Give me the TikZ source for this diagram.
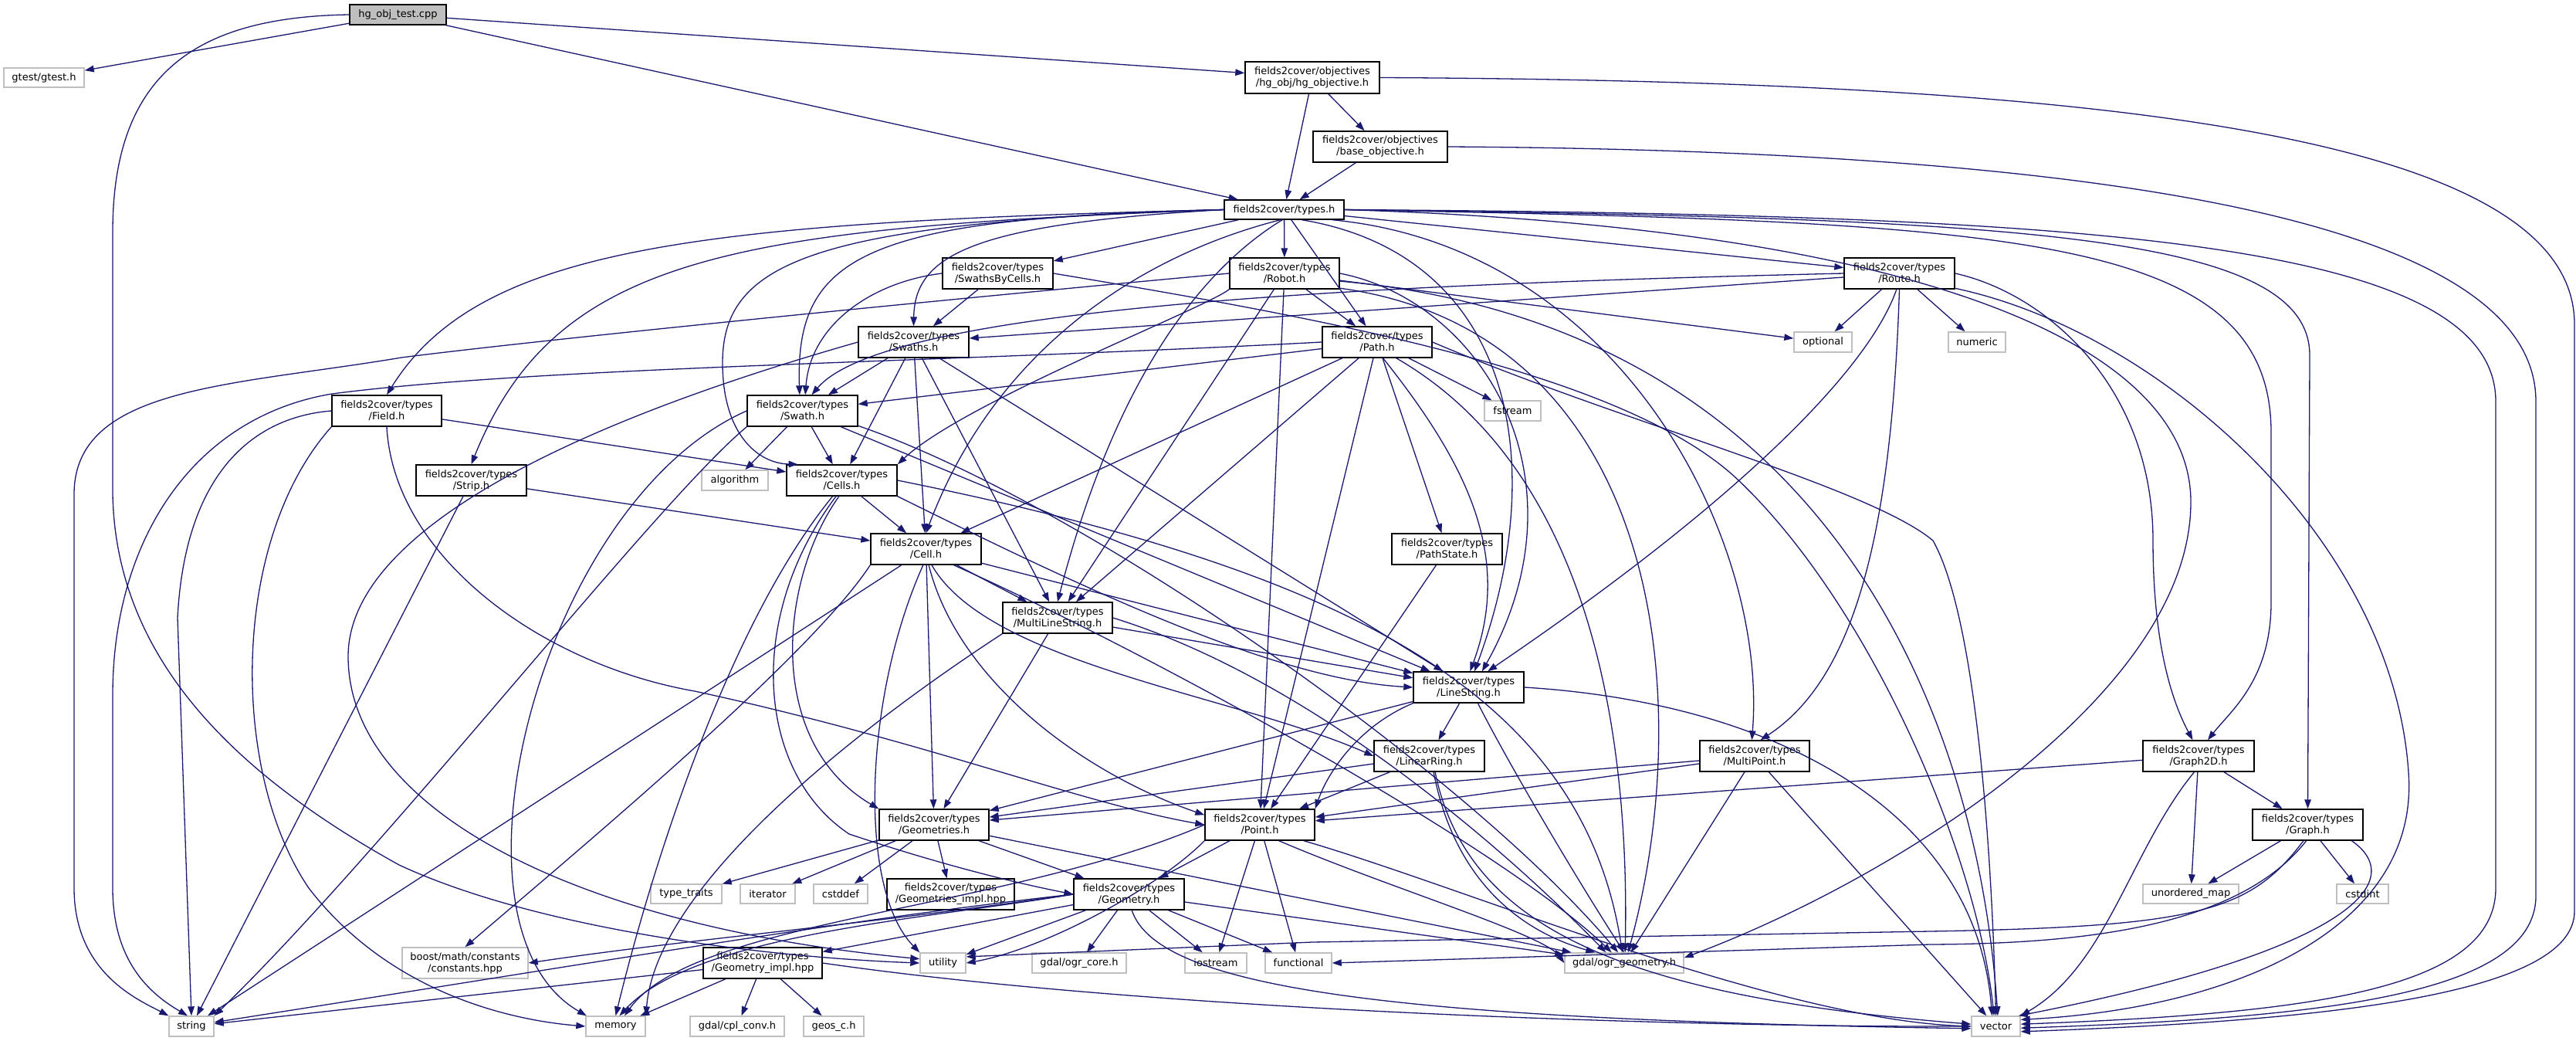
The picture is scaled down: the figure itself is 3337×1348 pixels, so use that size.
\documentclass[tikz,border=0pt]{standalone}
\usepackage{fontspec}
\setmainfont{DejaVu Sans}
\usetikzlibrary{arrows.meta}
\definecolor{edgec}{HTML}{191970}
\definecolor{grayb}{HTML}{BFBFBF}
\tikzset{
  fb/.style={draw=black, line width=1.4pt, fill=white, inner sep=0pt, align=center, font=\fontsize{13pt}{15pt}\selectfont},
  xb/.style={fb, draw=grayb},
  rb/.style={fb, fill=grayb},
  e/.style={draw=edgec, line width=1.3pt, -{Triangle[length=12pt,width=8.5pt]}},
}
\begin{document}
\begin{tikzpicture}[x=1pt,y=-1pt]
\fill[white] (0,0) rectangle (3337,1348);
\useasboundingbox (0,0) rectangle (3337,1348);
% ---------- nodes ----------
\node[rb, minimum width=125pt, minimum height=26pt] (hg) at (515.5,19) {hg\_obj\_test.cpp};
\node[xb, minimum width=104pt, minimum height=25pt] (gtest) at (57,100.5) {gtest/gtest.h};
\node[fb, minimum width=174pt, minimum height=41pt] (hgobj) at (1700,100.5) {fields2cover/objectives\\/hg\_obj/hg\_objective.h};
\node[fb, minimum width=174pt, minimum height=40pt] (baseobj) at (1788,190) {fields2cover/objectives\\/base\_objective.h};
\node[fb, minimum width=155pt, minimum height=25pt] (types) at (1663.5,271.5) {fields2cover/types.h};
\node[fb, minimum width=143pt, minimum height=40pt] (sbc) at (1292.5,354) {fields2cover/types\\/SwathsByCells.h};
\node[fb, minimum width=142pt, minimum height=40pt] (robot) at (1664,354) {fields2cover/types\\/Robot.h};
\node[fb, minimum width=143pt, minimum height=40pt] (route) at (2460.5,354) {fields2cover/types\\/Route.h};
\node[xb, minimum width=75pt, minimum height=26pt] (optional) at (2361.5,443) {optional};
\node[xb, minimum width=74pt, minimum height=26pt] (numeric) at (2561,443) {numeric};
\node[fb, minimum width=143pt, minimum height=40pt] (swaths) at (1183.5,443) {fields2cover/types\\/Swaths.h};
\node[fb, minimum width=142pt, minimum height=40pt] (path) at (1784,443) {fields2cover/types\\/Path.h};
\node[fb, minimum width=142pt, minimum height=40pt] (field) at (501,532) {fields2cover/types\\/Field.h};
\node[fb, minimum width=143pt, minimum height=40pt] (swath) at (1039.5,532) {fields2cover/types\\/Swath.h};
\node[xb, minimum width=73pt, minimum height=26pt] (fstream) at (1959.5,532) {fstream};
\node[fb, minimum width=143pt, minimum height=40pt] (strip) at (610.5,622) {fields2cover/types\\/Strip.h};
\node[xb, minimum width=86pt, minimum height=26pt] (algorithm) at (952,622) {algorithm};
\node[fb, minimum width=143pt, minimum height=40pt] (cells) at (1090.5,622) {fields2cover/types\\/Cells.h};
\node[fb, minimum width=143pt, minimum height=40pt] (cell) at (1199.5,711) {fields2cover/types\\/Cell.h};
\node[fb, minimum width=143pt, minimum height=40pt] (pathstate) at (1874.5,711) {fields2cover/types\\/PathState.h};
\node[fb, minimum width=142pt, minimum height=40pt] (mls) at (1370,800) {fields2cover/types\\/MultiLineString.h};
\node[fb, minimum width=143pt, minimum height=40pt] (linestring) at (1902.5,890) {fields2cover/types\\/LineString.h};
\node[fb, minimum width=143pt, minimum height=40pt] (linearring) at (1851.5,979) {fields2cover/types\\/LinearRing.h};
\node[fb, minimum width=142pt, minimum height=40pt] (multipoint) at (2273,979) {fields2cover/types\\/MultiPoint.h};
\node[fb, minimum width=144pt, minimum height=40pt] (graph2d) at (2848,979) {fields2cover/types\\/Graph2D.h};
\node[fb, minimum width=143pt, minimum height=40pt] (graph) at (2989.5,1068) {fields2cover/types\\/Graph.h};
\node[fb, minimum width=142pt, minimum height=40pt] (geometries) at (1210,1068) {fields2cover/types\\/Geometries.h};
\node[fb, minimum width=142pt, minimum height=40pt] (point) at (1632,1068) {fields2cover/types\\/Point.h};
\node[xb, minimum width=92pt, minimum height=25pt] (typetraits) at (889,1157.5) {type\_traits};
\node[xb, minimum width=71pt, minimum height=25pt] (iterator) at (994.5,1157.5) {iterator};
\node[xb, minimum width=70pt, minimum height=25pt] (cstddef) at (1089,1157.5) {cstddef};
\node[xb, minimum width=124pt, minimum height=25pt] (umap) at (2838,1157.5) {unordered\_map};
\node[xb, minimum width=67pt, minimum height=25pt] (cstdint) at (3060.5,1157.5) {cstdint};
\node[fb, minimum width=165pt, minimum height=40pt] (geomimpl) at (1231.5,1158) {fields2cover/types\\/Geometries\_impl.hpp};
\node[fb, minimum width=143pt, minimum height=40pt] (geometry) at (1462.5,1158) {fields2cover/types\\/Geometry.h};
\node[xb, minimum width=163pt, minimum height=40pt] (boost) at (602.5,1247) {boost/math/constants\\/constants.hpp};
\node[fb, minimum width=154pt, minimum height=40pt] (gimpl) at (988,1247) {fields2cover/types\\/Geometry\_impl.hpp};
\node[xb, minimum width=59pt, minimum height=26pt] (utility) at (1221.5,1247) {utility};
\node[xb, minimum width=122pt, minimum height=26pt] (ogrcore) at (1398,1247) {gdal/ogr\_core.h};
\node[xb, minimum width=80pt, minimum height=26pt] (iostream) at (1575,1247) {iostream};
\node[xb, minimum width=86pt, minimum height=26pt] (functional) at (1682,1247) {functional};
\node[xb, minimum width=154pt, minimum height=26pt] (ogrgeom) at (2104,1247) {gdal/ogr\_geometry.h};
\node[xb, minimum width=122pt, minimum height=26pt] (cplconv) at (955,1329) {gdal/cpl\_conv.h};
\node[xb, minimum width=78pt, minimum height=26pt] (geosc) at (1080,1329) {geos\_c.h};
\node[xb, minimum width=58pt, minimum height=26pt] (string) at (248,1329) {string};
\node[xb, minimum width=77pt, minimum height=26pt] (memory) at (797.5,1329) {memory};
\node[xb, minimum width=63pt, minimum height=26pt] (vector) at (2585.5,1329) {vector};
% ---------- edges ----------
% hg_obj_test.cpp
\draw[e] (hg) -- (gtest);
\draw[e] (hg) -- (hgobj);
\draw[e] (hg) -- (types);
\draw[e] (hg.west) .. controls (260,22) and (146,90) .. (146,300) -- (146,640) .. controls (150,850) and (300,1000) .. (517,1120) .. controls (700,1205) and (1000,1240) .. (utility.west);
% objectives
\draw[e] (hgobj) -- (types);
\draw[e] (hgobj) -- (baseobj);
\draw[e] (hgobj.east) .. controls (2700,105) and (3335,170) .. (3335,420) -- (3335,1180) .. controls (3335,1290) and (3000,1322) .. (vector.-12);
\draw[e] (baseobj) -- (types);
\draw[e] (baseobj.east) .. controls (2700,195) and (3285,280) .. (3285,520) -- (3285,1160) .. controls (3285,1290) and (3000,1318) .. (vector.-4);
% types.h
\draw[e] (types) -- (sbc);
\draw[e] (types) -- (robot);
\draw[e] (types) -- (route);
\draw[e] (types) -- (path);
\draw[e] (types.west) .. controls (1260,290) and (1185,330) .. (swaths.north);
\draw[e] (types.west) .. controls (1120,282) and (1030,330) .. (swath.100);
\draw[e] (types.west) .. controls (900,288) and (620,320) .. (field.north);
\draw[e] (types.west) .. controls (950,295) and (720,330) .. (strip.north);
\draw[e] (types.west) .. controls (1050,288) and (936,340) .. (936,470) .. controls (936,560) and (980,600) .. (cells.160);
\draw[e] (types.-110) .. controls (1480,330) and (1290,450) .. (cell.north);
\draw[e] (types.-100) .. controls (1570,340) and (1450,470) .. (mls.north);
\draw[e] (types.-30) .. controls (1960,330) and (2010,600) .. (linestring.70);
\draw[e] (types.-12) .. controls (2100,320) and (2290,700) .. (multipoint.100);
\draw[e] (types.east) .. controls (2600,288) and (2942,300) .. (2942,560) -- (2942,780) .. controls (2942,880) and (2890,920) .. (graph2d.60);
\draw[e] (types.east) .. controls (2600,283) and (2992,300) .. (2992,460) -- (graph.north);
\draw[e] (types.east) .. controls (2700,278) and (3233,310) .. (3233,520) -- (3233,1150) .. controls (3233,1280) and (3000,1312) .. (vector.5);
\draw[e] (types.east) .. controls (2500,295) and (2838,450) .. (2838,650) .. controls (2838,900) and (2450,1140) .. (ogrgeom.5);
% SwathsByCells.h
\draw[e] (sbc) -- (swaths);
\draw[e] (sbc.west) .. controls (1130,365) and (1050,420) .. (swath.80);
\draw[e] (sbc.east) .. controls (1700,410) and (2100,480) .. (2250,620) .. controls (2420,780) and (2560,1100) .. (vector.100);
% Robot.h
\draw[e] (robot) -- (path);
\draw[e] (robot.south west) .. controls (1560,400) and (1250,520) .. (cells.north east);
\draw[e] (robot) -- (mls);
\draw[e] (robot) -- (point);
\draw[e] (robot) -- (optional);
\draw[e] (robot.west) .. controls (1200,390) and (700,440) .. (520,463) .. controls (300,500) and (96,500) .. (96,640) -- (96,1150) .. controls (96,1260) and (180,1295) .. (string.north west);
\draw[e] (robot.east) .. controls (1920,390) and (2060,620) .. (linestring.50);
\draw[e] (robot.-15) .. controls (2150,430) and (2200,900) .. (ogrgeom.70);
\draw[e] (robot.-8) .. controls (2350,420) and (2560,900) .. (vector.80);
% Route.h
\draw[e] (route) -- (swaths);
\draw[e] (route.west) .. controls (1800,368) and (1150,395) .. (swath.60);
\draw[e] (route) -- (optional);
\draw[e] (route) -- (numeric);
\draw[e] (route.-100) .. controls (2420,480) and (2250,650) .. (linestring.40);
\draw[e] (route.-90) .. controls (2450,700) and (2400,880) .. (multipoint.70);
\draw[e] (route.east) .. controls (2650,380) and (2789,500) .. (2789,700) .. controls (2789,850) and (2820,920) .. (graph2d.110);
\draw[e] (route.-15) .. controls (2800,430) and (3100,700) .. (3120,1000) .. controls (3135,1200) and (2900,1305) .. (vector.15);
% Path.h
\draw[e] (path) -- (swath);
\draw[e] (path.west) .. controls (1200,470) and (700,475) .. (430,510) .. controls (250,540) and (146,700) .. (146,900) -- (146,1150) .. controls (146,1250) and (200,1290) .. (string.110);
\draw[e] (path) -- (pathstate);
\draw[e] (path) -- (fstream);
\draw[e] (path) -- (point);
\draw[e] (path) -- (mls);
\draw[e] (path) -- (cell);
\draw[e] (path.-70) .. controls (1900,600) and (1960,720) .. (linestring.85);
\draw[e] (path.-40) .. controls (2080,620) and (2110,1000) .. (ogrgeom.85);
\draw[e] (path.east) .. controls (2100,547) and (2420,630) .. (2504,700) .. controls (2560,800) and (2580,1100) .. (vector.90);
% Swaths.h
\draw[e] (swaths) -- (swath);
\draw[e] (swaths) -- (cells);
\draw[e] (swaths) -- (cell);
\draw[e] (swaths) -- (mls);
\draw[e] (swaths) -- (linestring);
\draw[e] (swaths.west) .. controls (700,560) and (451,700) .. (451,850) .. controls (451,1050) and (750,1200) .. (utility.170);
% Swath.h
\draw[e] (swath) -- (cells);
\draw[e] (swath) -- (algorithm);
\draw[e] (swath.south west) .. controls (850,650) and (500,1100) .. (string.north east);
\draw[e] (swath.west) .. controls (700,650) and (560,1200) .. (memory.160);
\draw[e] (swath) -- (linestring);
\draw[e] (swath.-15) .. controls (1400,650) and (1900,1000) .. (ogrgeom.120);
% Field.h
\draw[e] (field) -- (cells);
\draw[e] (field.south) .. controls (510,720) and (700,860) .. (900,895) .. controls (1200,960) and (1400,1040) .. (point.west);
\draw[e] (field.west) .. controls (330,540) and (240,610) .. (230,800) -- (string.north);
\draw[e] (field.south west) .. controls (298,700) and (298,1000) .. (400,1150) .. controls (500,1280) and (650,1320) .. (memory.west);
% Strip.h
\draw[e] (strip) -- (cell);
\draw[e] (strip) -- (string);
% Cells.h
\draw[e] (cells) -- (cell);
\draw[e] (cells.-100) .. controls (1010,750) and (990,960) .. (geometries.north west);
\draw[e] (cells.-110) .. controls (965,800) and (980,1000) .. (1100,1080) .. controls (1250,1130) and (1350,1150) .. (geometry.west);
\draw[e] (cells.south east) .. controls (1400,760) and (1650,880) .. (linestring.west);
\draw[e] (cells.east) .. controls (1750,740) and (2050,900) .. (ogrgeom.100);
\draw[e] (cells.-120) .. controls (950,800) and (850,1100) .. (memory.north);
% Cell.h
\draw[e] (cell) -- (mls);
\draw[e] (cell) -- (linestring);
\draw[e] (cell.-70) .. controls (1280,860) and (1600,900) .. (linearring.west);
\draw[e] (cell) -- (geometries);
\draw[e] (cell.-80) .. controls (1240,880) and (1400,1000) .. (point.170);
\draw[e] (cell.south west) .. controls (1050,850) and (750,1100) .. (boost.north);
\draw[e] (cell) -- (string);
\draw[e] (cell.-100) .. controls (1120,900) and (1110,1150) .. (utility.north west);
\draw[e] (cell.-30) .. controls (1500,850) and (1950,1100) .. (ogrgeom.140);
% MultiLineString.h
\draw[e] (mls) -- (linestring);
\draw[e] (mls) -- (geometries);
\draw[e] (mls.east) .. controls (1700,880) and (1950,1100) .. (ogrgeom.150);
\draw[e] (mls.south west) .. controls (1100,950) and (850,1150) .. (memory.north east);
% LineString.h
\draw[e] (linestring) -- (linearring);
\draw[e] (linestring) -- (geometries);
\draw[e] (linestring.south west) .. controls (1760,940) and (1720,1000) .. (point.north east);
\draw[e] (linestring.-60) .. controls (1960,1000) and (2050,1150) .. (ogrgeom.north);
\draw[e] (linestring.east) .. controls (2300,910) and (2560,1050) .. (vector.110);
% LinearRing.h
\draw[e] (linearring) -- (geometries);
\draw[e] (linearring) -- (point);
\draw[e] (linearring.-75) .. controls (1880,1120) and (1950,1200) .. (ogrgeom.160);
\draw[e] (linearring.-70) .. controls (1900,1200) and (2100,1290) .. (vector.175);
% MultiPoint.h
\draw[e] (multipoint) -- (geometries);
\draw[e] (multipoint) -- (point);
\draw[e] (multipoint) -- (ogrgeom);
\draw[e] (multipoint) -- (vector);
% Graph2D.h
\draw[e] (graph2d) -- (graph);
\draw[e] (graph2d) -- (umap);
\draw[e] (graph2d) -- (point);
\draw[e] (graph2d.-105) .. controls (2760,1100) and (2730,1250) .. (vector.north east);
% Graph.h
\draw[e] (graph) -- (umap);
\draw[e] (graph) -- (cstdint);
\draw[e] (graph.-20) .. controls (3120,1140) and (3050,1230) .. (vector.25);
\draw[e] (graph.-105) .. controls (2915,1180) and (2850,1200) .. (2500,1206) -- (1700,1220) -- (utility.15);
\draw[e] (graph.-95) .. controls (2900,1200) and (2700,1222) .. (2500,1223) -- (functional.east);
% PathState.h
\draw[e] (pathstate) -- (point);
% Geometries.h
\draw[e] (geometries) -- (typetraits);
\draw[e] (geometries) -- (iterator);
\draw[e] (geometries) -- (cstddef);
\draw[e] (geometries) -- (geomimpl);
\draw[e] (geometries) -- (geometry);
\draw[e] (geometries) -- (ogrgeom);
% Point.h
\draw[e] (point) -- (geometry);
\draw[e] (point) -- (iostream);
\draw[e] (point) -- (functional);
\draw[e] (point.south west) .. controls (1500,1150) and (1350,1230) .. (utility.east);
\draw[e] (point.-40) .. controls (1800,1150) and (2000,1210) .. (ogrgeom.west);
\draw[e] (point.-20) .. controls (1900,1150) and (2300,1320) .. (vector.west);
\draw[e] (point.west) .. controls (1300,1180) and (900,1190) .. (memory.50);
% Geometry.h
\draw[e] (geometry) -- (gimpl);
\draw[e] (geometry) -- (ogrcore);
\draw[e] (geometry) -- (iostream);
\draw[e] (geometry) -- (functional);
\draw[e] (geometry) -- (utility);
\draw[e] (geometry) -- (ogrgeom);
\draw[e] (geometry.-80) .. controls (1500,1280) and (1800,1320) .. (vector.185);
\draw[e] (geometry.west) .. controls (1200,1190) and (900,1210) .. (memory.70);
\draw[e] (geometry.west) .. controls (1100,1190) and (750,1250) .. (string.10);
\draw[e] (geometry.west) .. controls (1100,1200) and (900,1215) .. (boost.east);
% Geometry_impl.hpp
\draw[e] (gimpl) -- (cplconv);
\draw[e] (gimpl) -- (geosc);
\draw[e] (gimpl) -- (string);
\draw[e] (gimpl) -- (memory);
\draw[e] (gimpl.east) .. controls (1500,1310) and (2200,1330) .. (vector.west);
\end{tikzpicture}
\end{document}
